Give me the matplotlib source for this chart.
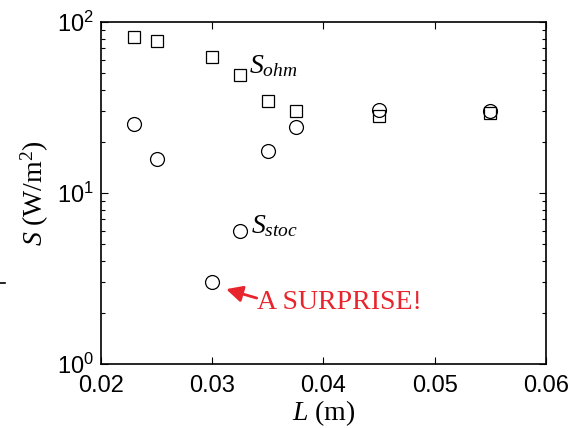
import matplotlib
matplotlib.use("Agg")
import matplotlib.pyplot as plt
from matplotlib.ticker import LogLocator, NullFormatter, FixedLocator

plt.rcParams["mathtext.fontset"] = "custom"
plt.rcParams["mathtext.rm"] = "Liberation Serif"
plt.rcParams["mathtext.it"] = "Liberation Serif:italic"

# Power deposition vs gap length
L_ohm = [0.023, 0.025, 0.030, 0.0325, 0.035, 0.0375, 0.045, 0.055]
S_ohm = [81.5, 77.5, 62.5, 49.0, 34.5, 30.2, 28.2, 29.4]

L_stoc = [0.023, 0.025, 0.030, 0.0325, 0.035, 0.0375, 0.045, 0.055]
S_stoc = [25.3, 15.8, 3.0, 6.0, 17.6, 24.3, 30.5, 30.2]

x_ticks = [0.02, 0.03, 0.04, 0.05, 0.06]
x_ticklabels = ["0.02", "0.03", "0.04", "0.05", "0.06"]

fig = plt.figure(figsize=(5.78, 4.28), dpi=100)
ax = fig.add_axes([0.1747, 0.1495, 0.9446 - 0.1747, 0.9486 - 0.1495])

ax.plot(L_ohm, S_ohm, linestyle="none", marker="s", markersize=8,
        markerfacecolor="none", markeredgecolor="black", markeredgewidth=0.9)
ax.plot(L_stoc, S_stoc, linestyle="none", marker="o", markersize=10,
        markerfacecolor="none", markeredgecolor="black", markeredgewidth=0.9)

ax.set_yscale("log")
ax.set_xlim(0.02, 0.06)
ax.set_ylim(1, 100)
ax.xaxis.set_major_locator(FixedLocator(x_ticks))
ax.set_xticklabels(x_ticklabels, fontfamily="Liberation Sans", fontsize=17)
ax.yaxis.set_minor_locator(LogLocator(base=10, subs=range(2, 10), numticks=20))
ax.yaxis.set_minor_formatter(NullFormatter())
ax.set_yticks([1, 10, 100])
ax.set_yticklabels([r"$\mathregular{10^0}$", r"$\mathregular{10^1}$", r"$\mathregular{10^2}$"],
                   fontfamily="Liberation Sans", fontsize=17)

ax.tick_params(which="both", direction="in", top=True, right=True, width=0.8)
ax.tick_params(which="major", length=5)
ax.tick_params(axis="x", which="major", pad=8)
ax.tick_params(axis="y", which="major", pad=5)
ax.tick_params(which="minor", length=3)
for sp in ax.spines.values():
    sp.set_linewidth(1.2)

ax.set_xlabel(r"$L\ \mathrm{(m)}$", fontsize=20, labelpad=1)
ax.set_ylabel(r"$S\ \mathrm{(W/m^2)}$", fontsize=20, labelpad=4)

ax.text(0.03335, 50.4, r"$S_{ohm}$", fontsize=20, va="baseline", ha="left")
ax.text(0.03345, 5.85, r"$S_{stoc}$", fontsize=20, va="baseline", ha="left")

red = "#e8242c"
ax.text(0.03405, 2.28, "A SURPRISE!", fontsize=20, color=red,
        fontfamily="Liberation Serif", va="center", ha="left")
ax.annotate("", xy=(0.03125, 2.74), xytext=(0.0340, 2.43),
            arrowprops=dict(arrowstyle="-|>,head_length=0.7,head_width=0.35",
                            color=red, lw=2.0, mutation_scale=14,
                            shrinkA=0, shrinkB=0))

fig.add_artist(plt.Line2D([0.0, 0.009], [1 - 283 / 428, 1 - 283 / 428],
                          transform=fig.transFigure, color="black", lw=1.2))

fig.savefig("out.png", dpi=100)
